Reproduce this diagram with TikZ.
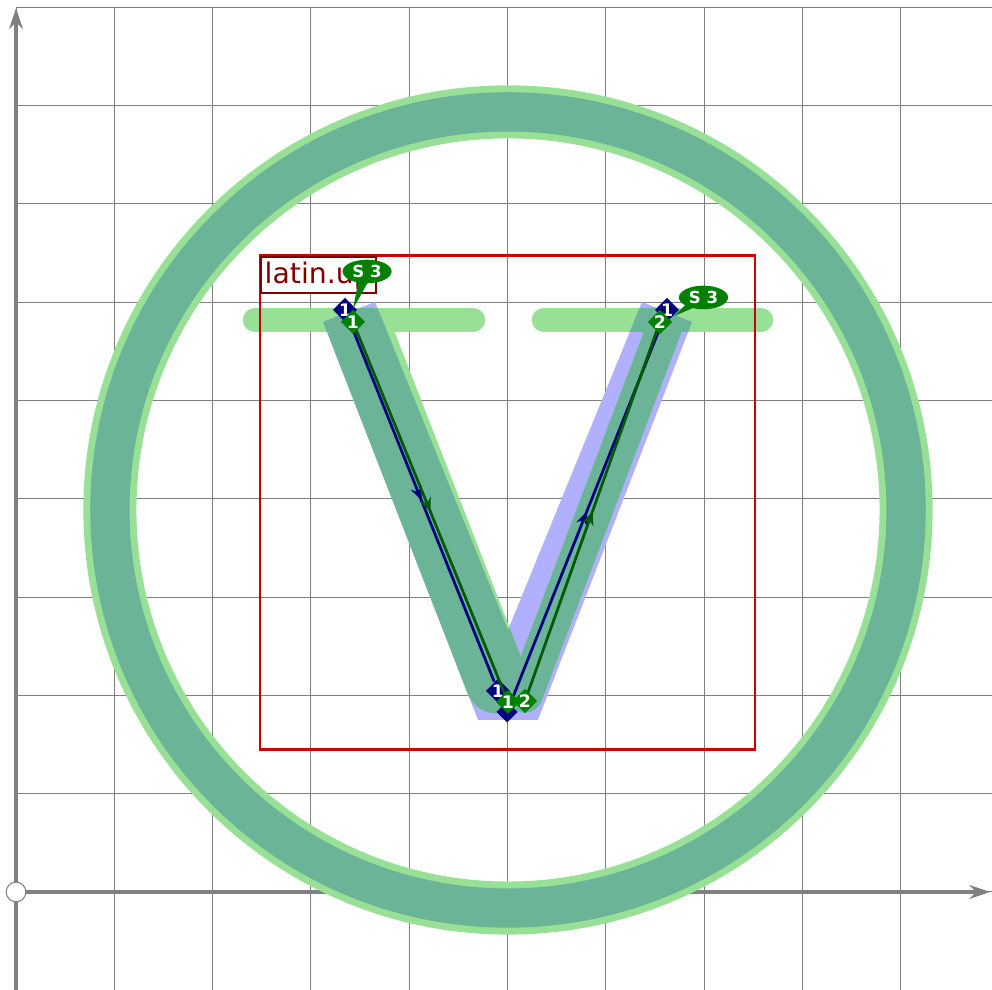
\documentclass[tikz,border=0pt]{standalone}
\usepackage{fontspec}
\setsansfont{DejaVu Sans}
\usetikzlibrary{arrows.meta,positioning,calc,shapes.geometric,shapes.callouts,decorations.markings}
\definecolor{gridgray}{RGB}{128,128,128}
\definecolor{ringgreen}{RGB}{152,224,150}
\definecolor{tealstroke}{RGB}{108,180,152}
\definecolor{glyphblue}{RGB}{176,176,255}
\definecolor{boxred}{RGB}{204,0,0}
\definecolor{tagred}{RGB}{128,0,0}
\definecolor{ptnavy}{RGB}{0,0,128}
\definecolor{ptgreen}{RGB}{0,128,0}
\definecolor{linegreen}{RGB}{0,90,0}
\tikzset{
  axis/.style={draw=gridgray, line width=1.15pt, -{Stealth[length=6pt,width=4pt]}},
  midarrow/.style={postaction={decorate},
    decoration={markings, mark=at position 0.5 with {\arrow{Stealth[length=1.4mm,width=1.2mm]}}}},
  pt/.style={diamond, inner sep=0pt, minimum size=2.2mm, text=white,
    font=\sffamily\bfseries\fontsize{5}{5}\selectfont},
  navypt/.style={pt, fill=ptnavy},
  greenpt/.style={pt, fill=ptgreen},
  navyline/.style={color=ptnavy, line width=0.8pt, midarrow},
  greenline/.style={color=linegreen, line width=0.8pt, midarrow},
  bubble/.style={ellipse callout, fill=ptgreen, text=white, minimum width=5mm,
    minimum height=2.4mm, inner sep=0pt, callout pointer arc=22,
    font=\sffamily\bfseries\fontsize{4.8}{4.8}\selectfont},
  tag/.style={draw=tagred, line width=0.6pt, fill=white, text=tagred,
    inner sep=1.2pt, font=\sffamily\fontsize{8.2}{9}\selectfont},
  glyphbox/.style={draw=boxred, line width=0.85pt, inner sep=0pt},
  bar/.style={line width=0.245cm, line cap=round},
  leftarm/.style={line width=0.64cm},
  rightarm/.style={line width=0.36cm}
}
\begin{document}
\begin{tikzpicture}
  \useasboundingbox (-0.163,-0.997) rectangle (9.929,9.074);
  % grid and axes
  \draw[gridgray, line width=0.3pt] (0,-1) grid (9.93,9);
  \draw[axis] (0,-1) -- (0,8.99);
  \draw[axis] (0,0) -- (9.91,0);
  \node[circle, draw=gridgray, fill=white, minimum size=2mm, inner sep=0pt, line width=0.3pt] (origin) at (0,0) {};
  % ring
  \coordinate (ctr) at (5.005,3.886);
  \draw[ringgreen, line width=0.54cm] (ctr) circle (4.05);
  \draw[tealstroke, line width=0.40cm] (ctr) circle (4.05);
  % guide bars
  \coordinate (barA1) at (2.43,5.82);
  \coordinate (barA2) at (4.65,5.82);
  \coordinate (barB1) at (5.37,5.82);
  \coordinate (barB2) at (7.58,5.82);
  \draw[ringgreen, bar] (barA1) -- (barA2);
  \draw[ringgreen, bar] (barB1) -- (barB2);
  % glyph outline
  \path[save path=\glyphline] (3.123,5.799) -- (3.652,6.002) -- (5.005,2.665) -- (6.368,6.002)
    -- (6.877,5.799) -- (5.310,1.750) -- (4.700,1.750) -- cycle;
  \fill[glyphblue, use path=\glyphline];
  % stroke bodies
  \coordinate (armA1) at (3.469,5.799);
  \coordinate (armA2) at (4.893,2.136);
  \coordinate (armB1) at (6.633,5.839);
  \coordinate (armB2) at (5.178,2.004);
  \draw[ringgreen, leftarm] (armA1) -- (armA2);
  \fill[ringgreen] (armA2) circle (0.32);
  \draw[ringgreen, rightarm] (armB1) -- (armB2);
  \fill[ringgreen] (armB2) circle (0.18);
  \begin{scope}
    \clip[use path=\glyphline];
    \draw[tealstroke, bar] (barA1) -- (barA2);
    \draw[tealstroke, bar] (barB1) -- (barB2);
    \draw[tealstroke, leftarm] (armA1) -- (armA2);
    \fill[tealstroke] (armA2) circle (0.32);
    \draw[tealstroke, rightarm] (armB1) -- (armB2);
    \fill[tealstroke] (armB2) circle (0.18);
  \end{scope}
  % box
  \node[glyphbox, minimum width=5.036cm, minimum height=5.025cm] (glyph) at (5.0,3.958) {};
  \node[tag, anchor=north west] (name) at ([shift={(0.01,-0.02)}]glyph.north west) {latin.up};
  % skeleton
  \node[navypt] (pA) at (3.347,5.921) {1};
  \node[navypt] (pB) at (4.903,2.045) {1};
  \node[navypt] (pC) at (4.995,1.831) {};
  \node[navypt] (pD) at (6.623,5.921) {1};
  \draw[navyline] (pA) -- (pB);
  \draw[navyline] (pC) -- (pD);
  \coordinate (gA) at (3.428,5.799);
  \coordinate (gB) at (5.005,1.933);
  \coordinate (gC) at (5.178,1.943);
  \coordinate (gD) at (6.551,5.799);
  \draw[greenline] (gA) -- (gB);
  \draw[greenline] (gC) -- (gD);
  \node[greenpt] (qA) at (gA) {1};
  \node[greenpt] (qB) at (gB) {1};
  \node[greenpt] (qC) at (gC) {2};
  \node[greenpt] (qD) at (gD) {2};
  % stroke labels
  \node[bubble, callout absolute pointer={(qA.north)}] (sA) at (3.571,6.312) {S 3};
  \node[bubble, callout absolute pointer={(pD.south east)}] (sB) at (6.994,6.048) {S 3};
\end{tikzpicture}
\end{document}
